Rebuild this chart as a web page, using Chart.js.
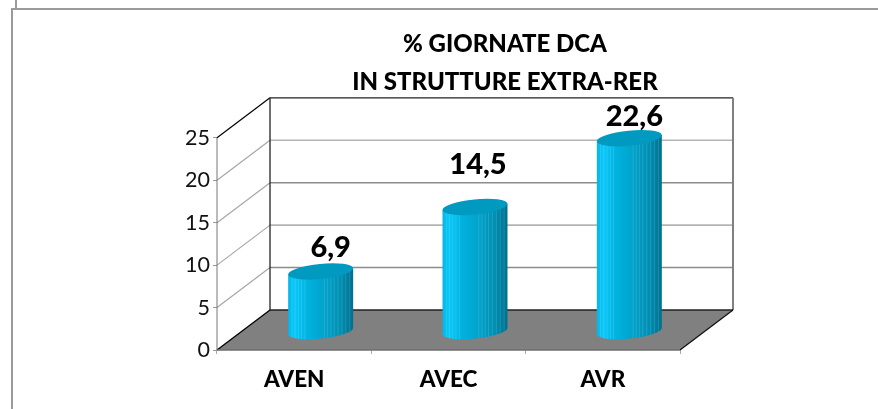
<!DOCTYPE html>
<html><head><meta charset="utf-8">
<style>
html,body{margin:0;padding:0;background:#fff;overflow:hidden}
#wrap{position:relative;width:878px;height:409px}
canvas{position:absolute;left:0;top:0}
.f{position:absolute;background:#9a9a9a}
</style>
<script src="https://cdn.jsdelivr.net/npm/chart.js@4"></script>
</head><body>
<div id="wrap">
<canvas id="c" width="878" height="409"></canvas>
<div class="f" style="left:11px;top:8px;width:867px;height:2px"></div>
<div class="f" style="left:11px;top:8px;width:2px;height:401px"></div>
<div class="f" style="left:15px;top:0;width:2px;height:9px"></div>
</div>
<script>
const categories = ['AVEN','AVEC','AVR'];
const values = [6.9,14.5,22.6];
const titleLines = ['% GIORNATE DCA','IN STRUTTURE EXTRA-RER'];
const yTicks = [0,5,10,15,20,25];

const DEPTH_X = 53, DEPTH_Y = -40;
const labelNudge = [[10,-24],[3,-42],[5,-22]];
const stripes = [.05,.1,.15,.2,.25,.55,.6,.65,.7,.76,.82,.88,.94];

const scene = {
  id:'scene',
  afterLayout(chart){
    const t = chart.titleBlock, w = t.right - t.left;
    t.left = 505 - w/2; t.right = 505 + w/2;
  },
  beforeDatasetsDraw(chart){
    const {ctx, scales:{x,y}} = chart, a = chart.chartArea;
    const y0 = y.getPixelForValue(0), yt = y.getPixelForValue(25);
    ctx.save();
    ctx.fillStyle='#808080';
    ctx.beginPath();ctx.moveTo(a.left,y0);ctx.lineTo(a.right,y0);ctx.lineTo(a.right+DEPTH_X,y0+DEPTH_Y);ctx.lineTo(a.left+DEPTH_X,y0+DEPTH_Y);ctx.closePath();ctx.fill();
    const line=(x1,y1,x2,y2,c,w)=>{ctx.strokeStyle=c;ctx.lineWidth=w;ctx.beginPath();ctx.moveTo(x1,y1);ctx.lineTo(x2,y2);ctx.stroke();};
    for(const v of yTicks){
      const p=y.getPixelForValue(v);
      if(v>0&&v<25){
        line(a.left,p,a.left+DEPTH_X,p+DEPTH_Y,'#a6a6a6',1.2);
        line(a.left+DEPTH_X,p+DEPTH_Y,a.right+DEPTH_X,p+DEPTH_Y,v%10?'#8c8c8c':'#b4b4b4',1.6);
      }
    }
    line(a.left,y0,a.left,yt,'#777',1);
    line(a.left,yt,a.left+DEPTH_X,yt+DEPTH_Y,'#000',1.2);
    line(a.left+DEPTH_X,yt+DEPTH_Y,a.right+DEPTH_X,yt+DEPTH_Y,'#222',1.3);
    line(a.left+DEPTH_X,yt+DEPTH_Y,a.left+DEPTH_X,y0+DEPTH_Y,'#222',1.3);
    line(a.right+DEPTH_X,yt+DEPTH_Y,a.right+DEPTH_X,y0+DEPTH_Y,'#808080',2);
    line(a.left+DEPTH_X,y0+DEPTH_Y,a.right+DEPTH_X,y0+DEPTH_Y,'#222',1.6);
    line(a.left,y0,a.left+DEPTH_X,y0+DEPTH_Y,'#000',1.3);
    line(a.right,y0,a.right+DEPTH_X,y0+DEPTH_Y,'#111',1.3);
    line(a.left,y0,a.right,y0,'#6e6e6e',1.6);
    ctx.restore();
  },
  beforeDatasetDraw(chart,args){
    const {ctx}=chart, els=args.meta.data, ox=DEPTH_X/2, oy=DEPTH_Y/2;
    const tilt=-0.1, minor=7.6;
    els.forEach((el,i)=>{
      const {x,y,base,width}=el.getProps(['x','y','base','width']);
      const cx=x+ox, top=y+oy, bot=base+oy+1.5, major=width/2/Math.cos(tilt);
      const g=ctx.createLinearGradient(cx-width/2,0,cx+width/2,0);
      g.addColorStop(0,'#05b6e4');g.addColorStop(.1,'#08c8fa');g.addColorStop(.3,'#00b2de');
      g.addColorStop(.55,'#00a3cc');g.addColorStop(.8,'#008fb3');g.addColorStop(1,'#00708f');
      ctx.save();
      const dx=major*Math.cos(tilt), dy=major*Math.sin(tilt);
      ctx.beginPath();
      ctx.moveTo(cx+dx,top+dy);
      ctx.lineTo(cx+dx,bot+dy);
      ctx.ellipse(cx,bot,major,minor,tilt,0,Math.PI);
      ctx.lineTo(cx-dx,top-dy);
      ctx.closePath();
      ctx.fillStyle=g;ctx.fill();
      ctx.clip();
      ctx.fillStyle='rgba(255,255,255,.13)';
      for(const s of stripes) ctx.fillRect(cx-width/2+s*width,top-20,1,bot-top+40);
      ctx.restore();
      ctx.save();
      ctx.fillStyle='#0099bf';
      ctx.beginPath();ctx.ellipse(cx,top,major,minor,tilt,0,2*Math.PI);ctx.fill();
      ctx.restore();
    });
    return false;
  },
  afterDatasetsDraw(chart){
    const {ctx}=chart, els=chart.getDatasetMeta(0).data;
    ctx.save();
    ctx.font='900 29px Lato';ctx.fillStyle='#000';ctx.textAlign='center';ctx.textBaseline='middle';
    els.forEach((el,i)=>{
      const cx=el.x+DEPTH_X/2, top=el.y+DEPTH_Y/2;
      ctx.fillText(String(values[i]).replace('.',','),cx+labelNudge[i][0],top+labelNudge[i][1]);
    });
    ctx.restore();
  }
};

new Chart(document.getElementById('c'),{
  type:'bar',
  data:{labels:categories,datasets:[{data:values,backgroundColor:'#00a8d2',barPercentage:1,categoryPercentage:.421}]},
  plugins:[scene],
  options:{
    responsive:false,animation:false,
    layout:{padding:{left:150,right:198,top:25,bottom:18}},
    plugins:{
      legend:{display:false},tooltip:{enabled:false},
      title:{display:true,text:titleLines,color:'#000',font:{family:'Lato',weight:'900',size:24,lineHeight:1.58},padding:{top:0,bottom:37},fullSize:false}
    },
    scales:{
      x:{offset:true,border:{display:false},
         grid:{drawOnChartArea:false,drawTicks:true,tickLength:4,color:'#aaa'},
         ticks:{color:'#000',font:{family:'Lato',weight:'900',size:22.5},padding:12,maxRotation:0},
         afterFit(s){s.height=41;}},
      y:{min:0,max:25,border:{display:false},
         afterBuildTicks(s){s.ticks=yTicks.map(v=>({value:v}));},
         grid:{drawOnChartArea:false,drawTicks:true,tickLength:4,color:'#999'},
         ticks:{color:'#111',font:{family:'Lato',size:21.5},padding:3},
         afterFit(s){s.width=67;}}
    }
  }
});
</script>
</body></html>
